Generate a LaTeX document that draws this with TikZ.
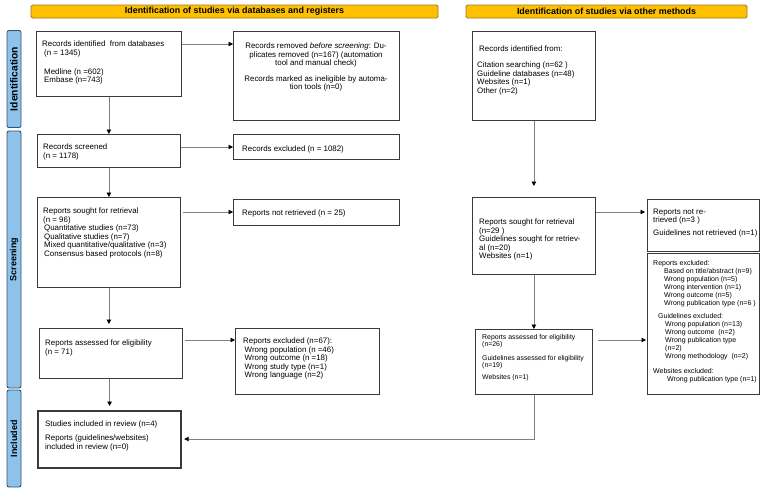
\documentclass[tikz,border=0pt]{standalone}
\usepackage{fontspec}
\setmainfont{Liberation Sans}
\usetikzlibrary{arrows.meta,calc}
\definecolor{hdrfill}{HTML}{FFC000}
\definecolor{hdrdraw}{HTML}{9C7A1E}
\definecolor{barfill}{HTML}{8DC3EB}
\definecolor{bardraw}{HTML}{34506C}
\definecolor{boxc}{HTML}{3A3A3A}
\definecolor{arrc}{HTML}{808080}
\begin{document}
\begin{tikzpicture}[x=1pt,y=-1pt,
  box/.style={draw=boxc, line width=0.8pt, rectangle, inner sep=0pt, anchor=north west, fill=white},
  thickbox/.style={box, line width=1.4pt},
  vthickbox/.style={box, line width=2.2pt},
  txt/.style={anchor=north west, inner sep=0pt, align=left, font=\fontsize{7.9}{8.6}\selectfont},
  smalltxt/.style={txt, font=\fontsize{7}{8}\selectfont},
  smallertxt/.style={txt, font=\fontsize{6.9}{7.7}\selectfont},
  hdr/.style={draw=hdrdraw, fill=hdrfill, line width=0.8pt, rounded corners=1.5pt, inner sep=0pt, font=\bfseries\fontsize{8.9}{10}\selectfont},
  bar/.style={draw=bardraw, fill=barfill, line width=0.9pt, rounded corners=2pt, inner sep=0pt, minimum width=14pt},
  barlabel/.style={rotate=90, inner sep=0pt, font=\bfseries\fontsize{9}{10}\selectfont},
  arr/.style={draw=arrc, line width=0.8pt, -{Triangle[width=4.5pt,length=4.5pt,color=black]}},
  plain/.style={draw=arrc, line width=0.8pt}
]
\useasboundingbox (0,0) rectangle (767,491);

% headers
\node[hdr, minimum width=407pt, minimum height=13pt] (h1) at (234.5,11.5) {Identification of studies via databases and registers};
\node[hdr, minimum width=281pt, minimum height=13pt] (h2) at (606.5,11.5) {Identification of studies via other methods};

% phase bars
\node[bar, minimum height=97pt] (pi) at (14,79) {};
\node[barlabel, font=\bfseries\fontsize{10.3}{11}\selectfont] (piL) at (pi.center) {Identification};
\node[bar, minimum height=257pt] (ps) at (14,259.5) {};
\node[barlabel] (psL) at (ps.center) {Screening};
\node[bar, minimum height=97pt] (pn) at (14,438.5) {};
\node[barlabel] (pnL) at (pn.center) {Included};

% left column boxes
\node[box, minimum width=145pt, minimum height=65pt] (b1) at (36,31) {};
\node[txt] (t1) at (42,40.5) {Records identified\ \ from databases\\\hspace*{2pt}(n = 1345)\\[10.4pt]\hspace*{2pt}Medline (n =602)\\\hspace*{2pt}Embase (n=743)};

\node[box, minimum width=166pt, minimum height=89pt] (b2) at (233,31) {};
\node[txt, anchor=north, align=center] (t2) at (316,42.5) {Records removed \textit{before screening}: Du-\\plicates removed (n=167) (automation\\tool and manual check)\\[7pt]Records marked as ineligible by automa-\\tion tools (n=0)};

\node[box, minimum width=143pt, minimum height=33pt] (b3) at (37,134) {};
\node[txt] (t3) at (43,143.5) {Records screened\\(n = 1178)};

\node[thickbox, minimum width=166pt, minimum height=25pt] (b4) at (233,134) {};
\node[txt] (t4) at (242,145.5) {Records excluded (n = 1082)};

\node[box, minimum width=143pt, minimum height=90pt] (b5) at (37,197) {};
\node[txt] (t5) at (43,207.5) {Reports sought for retrieval\\(n = 96)\\\hspace*{1pt}Quantitative studies (n=73)\\\hspace*{1pt}Qualitative studies (n=7)\\\hspace*{1pt}Mixed quantitative/qualitative (n=3)\\\hspace*{1pt}Consensus based protocols (n=8)};

\node[box, minimum width=166pt, minimum height=26pt] (b6) at (233,199) {};
\node[txt] (t6) at (242,209.5) {Reports not retrieved (n = 25)};

\node[box, minimum width=143pt, minimum height=50pt] (b7) at (39,328) {};
\node[txt] (t7) at (45,339.5) {Reports assessed for eligibility\\(n = 71)};

\node[box, minimum width=144pt, minimum height=66pt] (b8) at (235,328) {};
\node[txt] (t8) at (243,337.5) {Reports excluded (n=67):\\\hspace*{1.5pt}Wrong population (n =46)\\\hspace*{1.5pt}Wrong outcome (n =18)\\\hspace*{1.5pt}Wrong study type (n=1)\\\hspace*{1.5pt}Wrong language (n=2)};

\node[vthickbox, minimum width=143pt, minimum height=57pt] (b9) at (37,410) {};
\node[txt] (t9) at (45,420.5) {Studies included in review (n=4)\\[5.4pt]Reports (guidelines/websites)\\included in review (n=0)};

% right column boxes
\node[box, minimum width=123pt, minimum height=89pt] (r1) at (472,31) {};
\node[txt] (tr1) at (477,45.5) {\hspace*{2pt}Records identified from:\\[7.4pt]Citation searching (n=62 )\\Guideline databases (n=48)\\Websites (n=1)\\Other (n=2)};

\node[box, minimum width=123pt, minimum height=77pt] (r2) at (472,197) {};
\node[txt] (tr2) at (479,218.5) {Reports sought for retrieval\\(n=29 )\\Guidelines sought for retriev-\\al (n=20)\\Websites (n=1)};

\node[box, minimum width=112pt, minimum height=52pt] (r3) at (647,199) {};
\node[txt] (tr3) at (653,208.5) {Reports not re-\\trieved (n=3 )\\[4.4pt]Guidelines not retrieved (n=1)};

\node[box, minimum width=112pt, minimum height=141pt] (r4) at (647,253) {};
\node[smalltxt] (tr4) at (653,260) {Reports excluded:\\\hspace*{11pt}Based on title/abstract (n=9)\\\hspace*{11pt}Wrong population (n=5)\\\hspace*{11pt}Wrong intervention (n=1)\\\hspace*{11pt}Wrong outcome (n=5)\\\hspace*{11pt}Wrong publication type (n=6 )\\[4.8pt]\hspace*{5pt}Guidelines excluded:\\\hspace*{12pt}Wrong population (n=13)\\\hspace*{12pt}Wrong outcome\ \ (n=2)\\\hspace*{12pt}Wrong publication type\\\hspace*{12pt}(n=2)\\\hspace*{12pt}Wrong methodology\ \ (n=2)\\[7.7pt]Websites excluded:\\\hspace*{14pt}Wrong publication type (n=1)};

\node[box, minimum width=117pt, minimum height=65pt] (r5) at (475,329) {};
\node[smallertxt] (tr5) at (482,334) {Reports assessed for eligibility\\(n=26)\\[5.6pt]Guidelines assessed for eligibility\\(n=19)\\[4.3pt]Websites (n=1)};

% connector start points
\coordinate (c12) at ($(b1.north east)+(0,13)$);
\coordinate (c34) at ($(b3.north east)+(0,13)$);
\coordinate (c56) at ($(b5.north east)+(2,15)$);
\coordinate (c78) at ($(b7.north east)+(2,12)$);
\coordinate (cr23) at ($(r2.north east)+(0,15)$);
\coordinate (cr54) at ($(r5.north east)+(5,11)$);
\coordinate (cin) at ($(b9.north east)+(2,29)$);

% connectors left
\draw[arr] (c12) -- (c12 -| b2.west);
\draw[arr] (b1.south) -- (b3.north);
\draw[arr] (c34) -- (c34 -| b4.west);
\draw[arr] (b3.south) -- (b5.north);
\draw[arr] (c56) -- (c56 -| b6.west);
\draw[arr, shorten >=4pt] (b5.south) -- (b5.south |- b7.north);
\draw[arr] (c78) -- (c78 -| b8.west);
\draw[arr, shorten >=4pt] (b9.north |- b7.south) -- (b9.north);

% connectors right
\draw[arr, shorten >=11pt] (r1.south) -- (r2.north);
\draw[arr, shorten >=2pt] (cr23) -- (cr23 -| r3.west);
\draw[arr] (r2.south) -- (r5.north);
\draw[arr, shorten >=1pt] (cr54) -- (cr54 -| r4.west);
\draw[arr] (r5.south) |- (cin);
\end{tikzpicture}
\end{document}
